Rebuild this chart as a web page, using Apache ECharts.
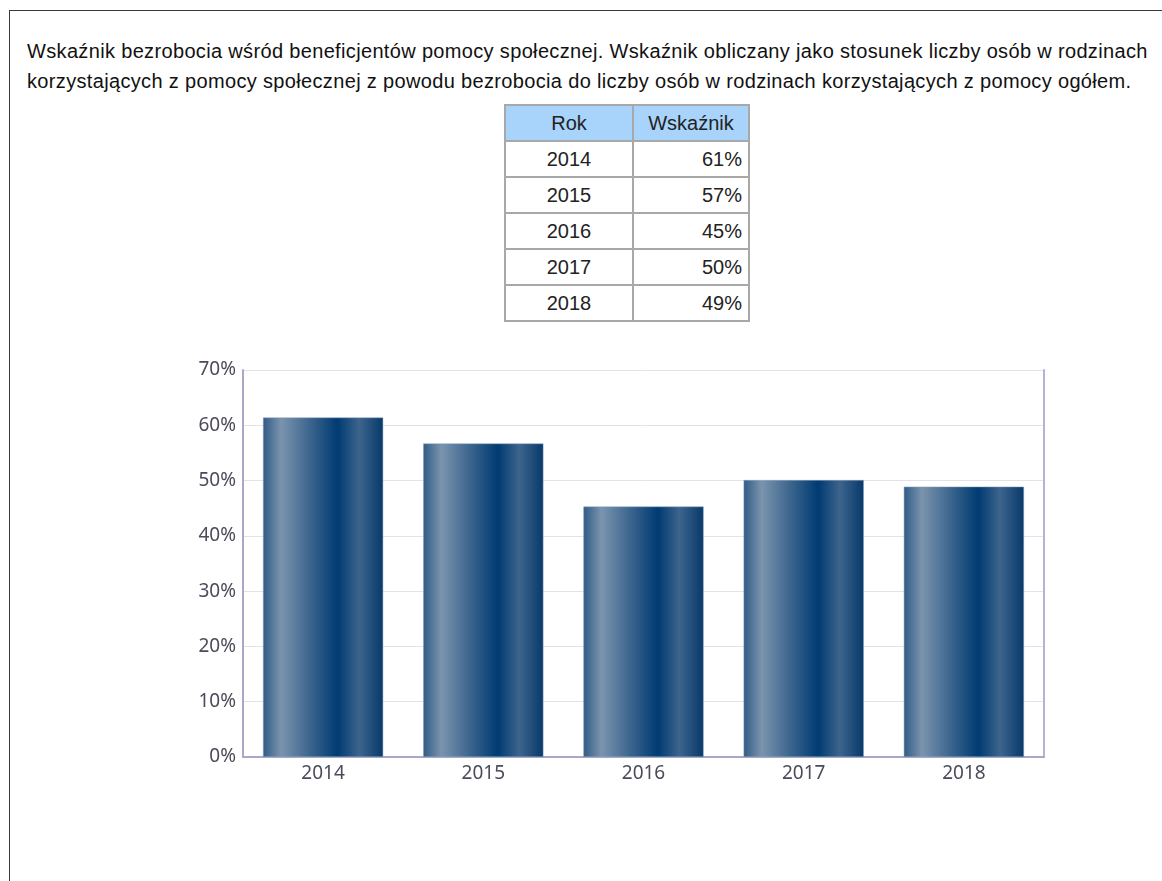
<!DOCTYPE html>
<html>
<head>
<meta charset="utf-8">
<script src="https://cdn.jsdelivr.net/npm/echarts@6/dist/echarts.min.js"></script>
<style>
  html, body { margin: 0; padding: 0; background: #fff; }
  body { width: 1162px; height: 881px; position: relative; overflow: hidden; font-family: "Liberation Sans", Arial, sans-serif; }
  #frame { position: absolute; left: 9px; top: 10px; width: 1300px; height: 1000px; border: 1px solid #3a3a3a; }
  #desc { position: absolute; left: 27px; top: 36px; white-space: nowrap; font-size: 20px; letter-spacing: 0.34px; line-height: 30px; color: #111; }
  #tbl { position: absolute; left: 504px; top: 104px; border-collapse: collapse; font-size: 20px; color: #222; }
  #tbl td, #tbl th { border: 2px solid #a8a8a8; height: 34px; padding: 0 6px; font-weight: normal; }
  #tbl th { background: #a8d3fb; }
  #tbl td.y { width: 114px; text-align: center; }
  #tbl td.v { width: 102px; text-align: right; }
  #chart { position: absolute; left: 0; top: 340px; width: 1162px; height: 480px; }
</style>
</head>
<body>
<div id="frame"></div>
<div id="desc">Wskaźnik bezrobocia wśród beneficjentów pomocy społecznej. Wskaźnik obliczany jako stosunek liczby osób w rodzinach<br>korzystających z pomocy społecznej z powodu bezrobocia do liczby osób w rodzinach korzystających z pomocy ogółem.</div>
<table id="tbl"></table>
<div id="chart"></div>
<script>
var years = ['2014', '2015', '2016', '2017', '2018'];
var tableValues = ['61%', '57%', '45%', '50%', '49%'];
var values = [61.4, 56.7, 45.3, 50.1, 48.9];
var yTicks = [0, 10, 20, 30, 40, 50, 60, 70];

var tbl = document.getElementById('tbl');
var html = '<tr><th>Rok</th><th>Wskaźnik</th></tr>';
for (var i = 0; i < years.length; i++) {
    html += '<tr><td class="y">' + years[i] + '</td><td class="v">' + tableValues[i] + '</td></tr>';
}
tbl.innerHTML = html;

var barColor = new echarts.graphic.LinearGradient(0, 0, 1, 0, [
    { offset: 0, color: '#2f5b86' },
    { offset: 0.15, color: '#7b94ae' },
    { offset: 0.38, color: '#3e678f' },
    { offset: 0.62, color: '#003b72' },
    { offset: 0.8, color: '#3d648d' },
    { offset: 1, color: '#07396a' }
]);

var labelStyle = { color: '#4b4b5a', fontSize: 19, fontFamily: 'Noto Sans, DejaVu Sans, sans-serif' };

var chart = echarts.init(document.getElementById('chart'));
chart.setOption({
    animation: false,
    grid: { left: 243, right: 118, top: 30, bottom: 63 },
    xAxis: {
        type: 'category',
        data: years,
        axisLine: { lineStyle: { color: '#a8a8c8', width: 2 } },
        axisTick: { show: false },
        axisLabel: Object.assign({ margin: 7 }, labelStyle)
    },
    yAxis: [{
        type: 'value',
        min: yTicks[0],
        max: yTicks[yTicks.length - 1],
        interval: 10,
        axisLine: { show: true, lineStyle: { color: '#a8a8c8', width: 2 } },
        axisTick: { show: false },
        splitLine: { lineStyle: { color: '#e2e2ec', width: 1 } },
        axisLabel: Object.assign({ margin: 7, formatter: '{value}%' }, labelStyle)
    }, {
        type: 'value',
        position: 'right',
        min: yTicks[0],
        max: yTicks[yTicks.length - 1],
        interval: 10,
        axisLine: { show: true, lineStyle: { color: '#b4b4d2', width: 2 } },
        axisTick: { show: false },
        axisLabel: { show: false },
        splitLine: { show: false }
    }],
    series: [{
        type: 'bar',
        data: values,
        barCategoryGap: '25%',
        itemStyle: { color: barColor, borderColor: '#8aa0bb', borderWidth: 0.5 }
    }]
});
</script>
</body>
</html>
